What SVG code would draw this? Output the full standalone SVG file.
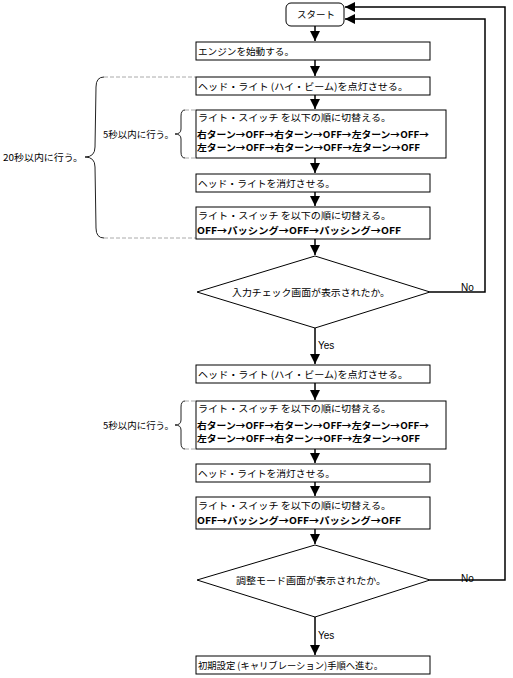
<svg xmlns="http://www.w3.org/2000/svg" width="513" height="678" viewBox="0 0 513 678">
<style>
.box{fill:#fff;stroke:#000;stroke-width:1}
.t{font-family:"Noto Sans CJK JP","Noto Sans",sans-serif;font-size:9.5px;fill:#000}
.b{font-weight:bold}
.lat{font-family:"Liberation Sans",Arial,sans-serif;font-size:10px;fill:#000}
.con{fill:none;stroke:#000;stroke-width:1.5}
.dash{fill:none;stroke:#aaa;stroke-width:1;stroke-dasharray:4,2}
.brace{fill:none;stroke:#222;stroke-width:1}
</style>
<defs>
<marker id="ah" markerUnits="userSpaceOnUse" markerWidth="11" markerHeight="11" refX="10" refY="5" orient="auto">
<path d="M0,0 L10,5 L0,10 z" fill="#000"/>
</marker>
</defs>
<rect width="513" height="678" fill="#fff"/>

<g id="connectors">
<path class="con" d="M315,26 V41" marker-end="url(#ah)"/>
<path class="con" d="M315,60 V76" marker-end="url(#ah)"/>
<path class="con" d="M315,95 V109" marker-end="url(#ah)"/>
<path class="con" d="M315,158 V173" marker-end="url(#ah)"/>
<path class="con" d="M315,192 V206" marker-end="url(#ah)"/>
<path class="con" d="M315,239 V255" marker-end="url(#ah)"/>
<path class="con" d="M315,328 V364" marker-end="url(#ah)"/>
<path class="con" d="M315,383 V400" marker-end="url(#ah)"/>
<path class="con" d="M315,449 V463" marker-end="url(#ah)"/>
<path class="con" d="M315,482 V496" marker-end="url(#ah)"/>
<path class="con" d="M315,529 V544" marker-end="url(#ah)"/>
<path class="con" d="M315,617 V655" marker-end="url(#ah)"/>
<path class="con" d="M430,292 H485 V19 H345" marker-end="url(#ah)"/>
<path class="con" d="M430,580 H505 V7 H345" marker-end="url(#ah)"/>
<text class="lat" x="318" y="349">Yes</text>
<text class="lat" x="318" y="639">Yes</text>
<text class="lat" x="461" y="291">No</text>
<text class="lat" x="461" y="582">No</text>
</g>

<g id="brackets">
<path class="dash" d="M104,77 H196 M104,238 H196"/>
<path class="brace" d="M104,77 Q96,77 96,87 L95,147 Q95,157 85,157 Q95,157 95,167 L96,228 Q96,238 104,238"/>
<text class="t" x="3" y="161" textLength="80" lengthAdjust="spacingAndGlyphs">20秒以内に行う。</text>
<path class="dash" d="M185,110 H196 M185,158 H196"/>
<path class="brace" d="M185,110 Q181,110 181,116 L181,129 Q181,134 175,134 Q181,134 181,139 L181,152 Q181,158 185,158"/>
<text class="t" x="103" y="138" textLength="71" lengthAdjust="spacingAndGlyphs">5秒以内に行う。</text>
<path class="dash" d="M185,401 H196 M185,449 H196"/>
<path class="brace" d="M185,401 Q181,401 181,407 L181,420 Q181,425 175,425 Q181,425 181,430 L181,443 Q181,449 185,449"/>
<text class="t" x="103" y="429" textLength="71" lengthAdjust="spacingAndGlyphs">5秒以内に行う。</text>
</g>

<g id="start">
<rect class="box" x="286" y="3" width="58" height="23" rx="5"/>
<text class="t" x="297" y="18" textLength="38" lengthAdjust="spacingAndGlyphs">スタート</text>
</g>
<g id="n1">
<rect class="box" x="196" y="42" width="234" height="18"/>
<text class="t" x="198" y="55" textLength="96" lengthAdjust="spacingAndGlyphs">エンジンを始動する。</text>
</g>
<g id="n2">
<rect class="box" x="196" y="77" width="234" height="18"/>
<text class="t" x="198" y="90" textLength="210" lengthAdjust="spacingAndGlyphs">ヘッド・ライト (ハイ・ビーム)を点灯させる。</text>
</g>
<g id="n3">
<rect class="box" x="196" y="110" width="250" height="48"/>
<text class="t" x="198" y="121" textLength="193" lengthAdjust="spacingAndGlyphs">ライト・スイッチ を以下の順に切替える。</text>
<text class="t b" x="197" y="138" textLength="232" lengthAdjust="spacingAndGlyphs">右ターン→OFF→右ターン→OFF→左ターン→OFF→</text>
<text class="t b" x="197" y="151" textLength="223" lengthAdjust="spacingAndGlyphs">左ターン→OFF→右ターン→OFF→左ターン→OFF</text>
</g>
<g id="n4">
<rect class="box" x="196" y="174" width="234" height="18"/>
<text class="t" x="198" y="187" textLength="137" lengthAdjust="spacingAndGlyphs">ヘッド・ライトを消灯させる。</text>
</g>
<g id="n5">
<rect class="box" x="196" y="207" width="234" height="32"/>
<text class="t" x="198" y="219" textLength="193" lengthAdjust="spacingAndGlyphs">ライト・スイッチ を以下の順に切替える。</text>
<text class="t b" x="197" y="234" textLength="204" lengthAdjust="spacingAndGlyphs">OFF→パッシング→OFF→パッシング→OFF</text>
</g>
<g id="d1">
<polygon class="box" points="315,256 430,292 315,328 197,292"/>
<text class="t" x="232" y="296" textLength="158" lengthAdjust="spacingAndGlyphs">入力チェック画面が表示されたか。</text>
</g>
<g id="n6">
<rect class="box" x="196" y="365" width="234" height="18"/>
<text class="t" x="198" y="378" textLength="210" lengthAdjust="spacingAndGlyphs">ヘッド・ライト (ハイ・ビーム)を点灯させる。</text>
</g>
<g id="n7">
<rect class="box" x="196" y="401" width="250" height="48"/>
<text class="t" x="198" y="412" textLength="193" lengthAdjust="spacingAndGlyphs">ライト・スイッチ を以下の順に切替える。</text>
<text class="t b" x="197" y="429" textLength="232" lengthAdjust="spacingAndGlyphs">右ターン→OFF→右ターン→OFF→左ターン→OFF→</text>
<text class="t b" x="197" y="442" textLength="223" lengthAdjust="spacingAndGlyphs">左ターン→OFF→右ターン→OFF→左ターン→OFF</text>
</g>
<g id="n8">
<rect class="box" x="196" y="464" width="234" height="18"/>
<text class="t" x="198" y="477" textLength="137" lengthAdjust="spacingAndGlyphs">ヘッド・ライトを消灯させる。</text>
</g>
<g id="n9">
<rect class="box" x="196" y="497" width="234" height="32"/>
<text class="t" x="198" y="509" textLength="193" lengthAdjust="spacingAndGlyphs">ライト・スイッチ を以下の順に切替える。</text>
<text class="t b" x="197" y="524" textLength="204" lengthAdjust="spacingAndGlyphs">OFF→パッシング→OFF→パッシング→OFF</text>
</g>
<g id="d2">
<polygon class="box" points="315,545 430,580 315,617 197,580"/>
<text class="t" x="236" y="584" textLength="150" lengthAdjust="spacingAndGlyphs">調整モード画面が表示されたか。</text>
</g>
<g id="n10">
<rect class="box" x="196" y="656" width="234" height="18"/>
<text class="t" x="198" y="669" textLength="185" lengthAdjust="spacingAndGlyphs">初期設定 (キャリブレーション)手順へ進む。</text>
</g>
</svg>
